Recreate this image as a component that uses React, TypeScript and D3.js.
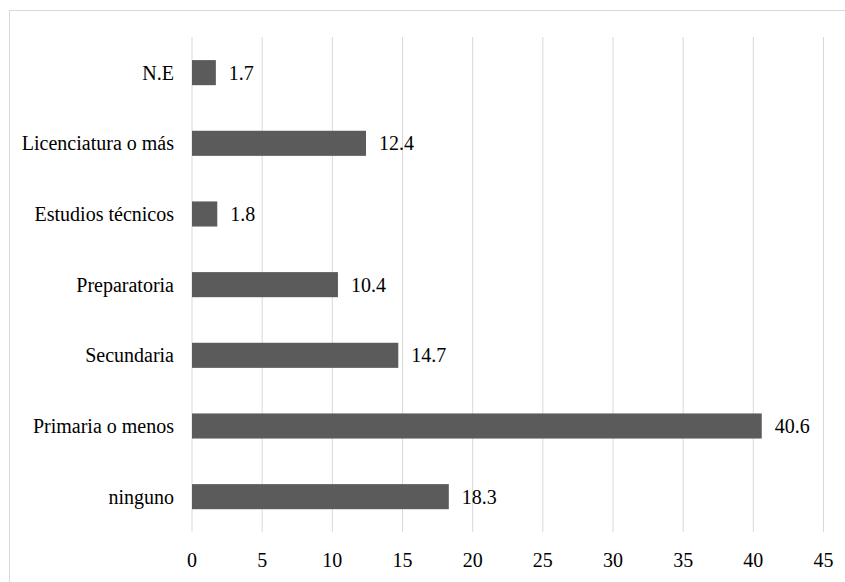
import React from "react";
import * as d3 from "d3";

const categories = ["N.E", "Licenciatura o más", "Estudios técnicos", "Preparatoria", "Secundaria", "Primaria o menos", "ninguno"];
const values = [1.7, 12.4, 1.8, 10.4, 14.7, 40.6, 18.3];
const ticks = [0, 5, 10, 15, 20, 25, 30, 35, 40, 45];

const W = 845;
const H = 582;
const FONT = "'Liberation Serif', serif";

export default function App() {
  const x = d3.scaleLinear().domain([0, 45]).range([192, 823.5]);
  const y = d3.scaleBand<string>().domain(categories).range([37.3, 532]).paddingInner(0.645).paddingOuter(0.3225);
  return (
    <svg width={W} height={H} style={{ position: "absolute", left: 0, top: 0 }}>
      <rect x={0} y={0} width={W} height={H} fill="#fff" />
      <rect x={9.5} y={10.5} width={W + 10} height={H + 10} fill="none" stroke="#d9d9d9" strokeWidth={1} />
      {ticks.map((t) => (
        <line key={t} x1={x(t)} x2={x(t)} y1={37} y2={532} stroke="#d9d9d9" strokeWidth={1} />
      ))}
      {ticks.map((t) => (
        <text key={"t" + t} x={x(t)} y={567} textAnchor="middle" fontFamily={FONT} fontSize={20} fill="#000">
          {t}
        </text>
      ))}
      {categories.map((c, i) => (
        <g key={c}>
          <rect x={x(0)} y={y(c)!} width={x(values[i]) - x(0)} height={y.bandwidth()} fill="#5b5b5b" />
          <text x={x(values[i]) + 13} y={y(c)! + y.bandwidth() / 2} dy="0.35em" fontFamily={FONT} fontSize={20} fill="#000">
            {values[i].toFixed(1)}
          </text>
          <text x={174} y={y(c)! + y.bandwidth() / 2} dy="0.35em" textAnchor="end" fontFamily={FONT} fontSize={20} fill="#000">
            {c}
          </text>
        </g>
      ))}
    </svg>
  );
}
